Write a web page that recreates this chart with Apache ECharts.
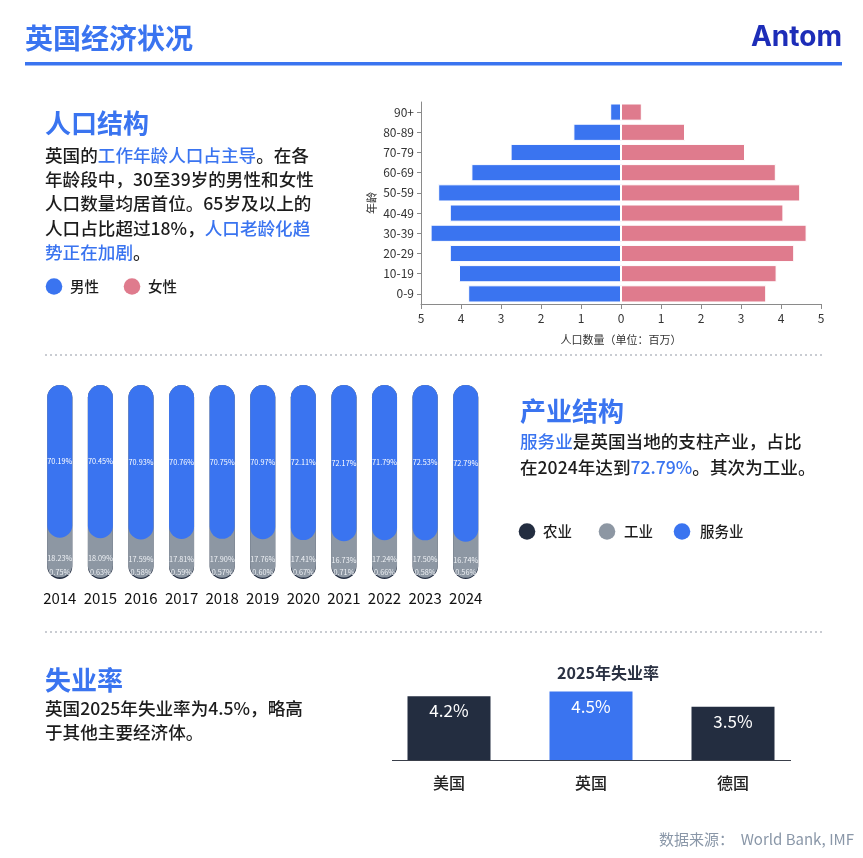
<!DOCTYPE html>
<html><head><meta charset="utf-8">
<script src="https://cdn.jsdelivr.net/npm/echarts@6/dist/echarts.min.js"></script>
<style>html,body{margin:0;padding:0;background:#fff}#main{width:863px;height:858px}</style>
</head><body><div id="main"></div>
<script>
// ---- Data ----
const ageGroups = ['0-9','10-19','20-29','30-39','40-49','50-59','60-69','70-79','80-89','90+'];
const maleValues = [3.82,4.05,4.28,4.76,4.28,4.57,3.74,2.76,1.19,0.27];
const femaleValues = [3.63,3.89,4.33,4.64,4.06,4.48,3.87,3.10,1.60,0.52];

const years = ['2014','2015','2016','2017','2018','2019','2020','2021','2022','2023','2024'];
const services = [70.19,70.45,70.93,70.76,70.75,70.97,72.11,72.17,71.79,72.53,72.79];
const industry = [18.23,18.09,17.59,17.81,17.90,17.76,17.41,16.73,17.24,17.50,16.74];
const agriculture = [0.75,0.63,0.58,0.59,0.57,0.60,0.67,0.71,0.66,0.58,0.56];

const countries = ['美国','英国','德国'];
const unemployment = [4.2,4.5,3.5];
const highlightCountry = '英国';

// ---- Styles ----
const FONT = "'Noto Sans CJK SC','Noto Sans',sans-serif";
const BLUE = '#3a74f0';
const PINK = '#df7b8d';
const NAVY = '#232d40';
const GREY = '#8d97a3';
const TEXT = '#1c1c1c';
const PFS = 17.6;

const totals = years.map((_, i) => agriculture[i] + industry[i] + services[i]);
const agriShare = agriculture.map((v, i) => v / totals[i] * 100);
const indShare = industry.map((v, i) => v / totals[i] * 100);
const servShare = services.map((v, i) => v / totals[i] * 100);

const chart = echarts.init(document.getElementById('main'), null, {renderer: 'canvas'});

function txt(x, y, text, opts) {
  return Object.assign({type: 'text', x: x, y: y, silent: true,
    style: Object.assign({text: text, fontFamily: FONT, fill: TEXT, fontSize: 17, fontWeight: 500,
      textVerticalAlign: 'middle'}, opts || {})});
}
function para(x, y, text, lh) {
  const base = {fontFamily: FONT, fontSize: PFS, fontWeight: 500, lineHeight: lh};
  return {type: 'text', x: x, y: y, silent: true,
    style: Object.assign({text: text, fill: TEXT, textVerticalAlign: 'top',
      rich: {b: Object.assign({fill: BLUE}, base), n: Object.assign({fill: TEXT}, base)}}, base)};
}
function dot(cx, cy, color) {
  return {type: 'circle', silent: true, shape: {cx: cx, cy: cy, r: 8.3}, style: {fill: color}};
}
function dotted(y) {
  return {type: 'line', silent: true, shape: {x1: 45, y1: y, x2: 822, y2: y},
    style: {stroke: '#b8bcc4', lineWidth: 1.5, lineDash: [2, 3]}};
}

const graphics = [
  txt(25, 38, '英国经济状况', {fontSize: 28, fontWeight: 'bold', fill: BLUE}),
  txt(842, 38, 'Antom', {fontSize: 28, fontWeight: 'bold', fill: '#1d2db8', textAlign: 'right', fontFamily: "Inter, 'Noto Sans', sans-serif"}),
  {type: 'rect', silent: true, shape: {x: 25, y: 62, width: 817, height: 3.5}, style: {fill: '#3a74f0'}},

  txt(45, 123, '人口结构', {fontSize: 26, fontWeight: 'bold', fill: BLUE}),
  para(45, 143, '英国的{b|工作年龄人口占主导}。在各\n年龄段中，30至39岁的男性和女性\n人口数量均居首位。65岁及以上的\n人口占比超过18%，{b|人口老龄化趋}\n{b|势正在加剧}。', 24.3),
  dot(54, 286.5, BLUE), txt(70, 286.5, '男性', {fontSize: 14.5}),
  dot(132, 286.5, PINK), txt(148, 286.5, '女性', {fontSize: 14.5}),

  dotted(355),

  txt(520, 411, '产业结构', {fontSize: 26, fontWeight: 'bold', fill: BLUE}),
  para(520, 429, '{b|服务业}是英国当地的支柱产业，占比\n在2024年达到{b|72.79%}。其次为工业。', 25.6),
  dot(527, 531.5, NAVY), txt(543, 531.5, '农业', {fontSize: 14.5}),
  dot(607, 531.5, GREY), txt(624, 531.5, '工业', {fontSize: 14.5}),
  dot(682, 531.5, BLUE), txt(700, 531.5, '服务业', {fontSize: 14.5}),

  dotted(632),

  txt(45, 680, '失业率', {fontSize: 26, fontWeight: 'bold', fill: BLUE}),
  para(45, 696, '英国2025年失业率为4.5%，略高\n于其他主要经济体。', 24.3),
  txt(608, 673, '2025年失业率', {fontSize: 16, fontWeight: 'bold', fill: '#2a3142', textAlign: 'center'}),
  {type: 'line', silent: true, shape: {x1: 392, y1: 760.5, x2: 791, y2: 760.5}, style: {stroke: '#3a3f4a', lineWidth: 1}},

  txt(854, 839, '数据来源：  World Bank, IMF', {fontSize: 15, fontWeight: 'normal', fill: '#8a97a8', textAlign: 'right'})
];

const option = {
  backgroundColor: '#fff',
  animation: false,
  textStyle: {fontFamily: FONT},
  grid: [
    {left: 421, right: 42, top: 102, bottom: 554},
    {left: 39.5, right: 377, top: 385, bottom: 279},
    {left: 378, right: 59, top: 684, bottom: 98}
  ],
  xAxis: [
    {gridIndex: 0, type: 'value', min: -5, max: 5, interval: 1,
      axisLine: {show: true, lineStyle: {color: '#8a8a8a'}},
      axisTick: {show: true, length: 5, lineStyle: {color: '#8a8a8a'}},
      splitLine: {show: false},
      axisLabel: {fontSize: 12, color: '#333', margin: 8, formatter: v => String(Math.abs(v))},
      name: '人口数量（单位：百万）', nameLocation: 'middle', nameGap: 30,
      nameTextStyle: {fontSize: 11, color: '#333'}},
    {gridIndex: 1, type: 'category', data: years,
      axisLine: {show: false}, axisTick: {show: false},
      axisLabel: {fontSize: 15, color: '#111', margin: 12, interval: 0}},
    {gridIndex: 2, type: 'category', data: countries,
      axisLine: {show: false}, axisTick: {show: false},
      axisLabel: {fontSize: 16, color: '#222', margin: 15, fontWeight: 500}}
  ],
  yAxis: [
    {gridIndex: 0, type: 'category', data: ageGroups,
      axisLine: {show: true, onZero: false, lineStyle: {color: '#8a8a8a'}},
      axisTick: {show: true, alignWithLabel: true, length: 4, lineStyle: {color: '#8a8a8a'}},
      axisLabel: {fontSize: 12, color: '#333', margin: 7},
      name: '年龄', nameLocation: 'middle', nameGap: 44,
      nameTextStyle: {fontSize: 11, color: '#333'}},
    {gridIndex: 1, type: 'value', min: 0, max: 100, show: false},
    {gridIndex: 2, type: 'value', min: 0, max: 5, show: false}
  ],
  series: [
    {type: 'bar', name: '男性', xAxisIndex: 0, yAxisIndex: 0, stack: 'pop', barCategoryGap: '15%',
      data: maleValues.map(v => -v), silent: true,
      itemStyle: {color: BLUE, borderColor: '#fff', borderWidth: 1}},
    {type: 'bar', name: '女性', xAxisIndex: 0, yAxisIndex: 0, stack: 'pop', barCategoryGap: '15%',
      data: femaleValues, silent: true,
      itemStyle: {color: PINK, borderColor: '#fff', borderWidth: 1}},

    {type: 'bar', name: '农业', xAxisIndex: 1, yAxisIndex: 1, barWidth: 25, barGap: '-100%', z: 1, silent: true,
      data: totals.map(() => 100),
      itemStyle: {color: NAVY, borderRadius: 12.5}},
    {type: 'bar', name: 'agriBase', xAxisIndex: 1, yAxisIndex: 1, stack: 'g', barWidth: 25, barGap: '-100%', z: 6, silent: true,
      data: agriShare, itemStyle: {color: 'rgba(0,0,0,0)'},
      label: {show: true, position: 'insideBottom', distance: 3, fontSize: 7.3, color: '#eef1f5',
        formatter: p => agriculture[p.dataIndex].toFixed(2) + '%'}},
    {type: 'bar', name: '工业', xAxisIndex: 1, yAxisIndex: 1, stack: 'g', barWidth: 25, barGap: '-100%', z: 2, silent: true,
      data: agriShare.map(v => 100 - v),
      itemStyle: {color: GREY, borderRadius: 12.5}},
    {type: 'bar', name: 'indBase', xAxisIndex: 1, yAxisIndex: 1, stack: 'b', barWidth: 25, barGap: '-100%', z: 6, silent: true,
      data: agriShare.map((v, i) => v + indShare[i]), itemStyle: {color: 'rgba(0,0,0,0)'},
      label: {show: true, position: 'inside', fontSize: 7.3, color: '#eef1f5',
        formatter: p => industry[p.dataIndex].toFixed(2) + '%'}},
    {type: 'bar', name: '服务业', xAxisIndex: 1, yAxisIndex: 1, stack: 'b', barWidth: 25, barGap: '-100%', z: 3, silent: true,
      data: servShare,
      itemStyle: {color: BLUE, borderRadius: 12.5},
      label: {show: true, position: 'inside', fontSize: 7.3, color: '#fff',
        formatter: p => services[p.dataIndex].toFixed(2) + '%'}},

    {type: 'bar', name: '失业率', xAxisIndex: 2, yAxisIndex: 2, barWidth: 83, silent: true,
      data: unemployment.map((v, i) => ({value: v, itemStyle: {color: countries[i] === highlightCountry ? BLUE : NAVY}})),
      label: {show: true, position: 'insideTop', distance: 6, fontSize: 17, color: '#fff',
        formatter: p => p.value.toFixed(1) + '%'}}
  ],
  graphic: graphics
};
chart.setOption(option);
</script></body></html>
